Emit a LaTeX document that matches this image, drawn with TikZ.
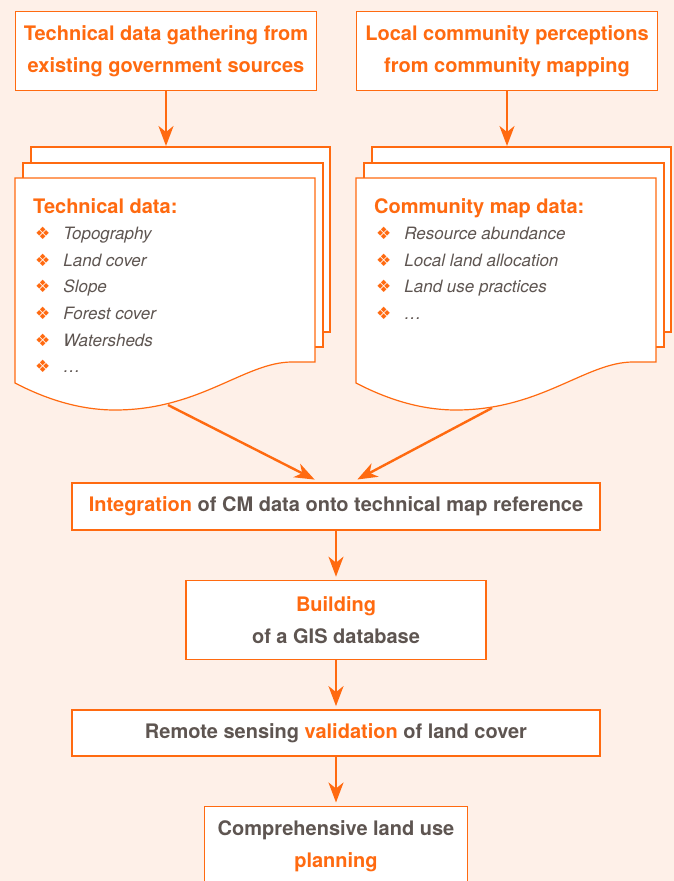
\documentclass[tikz,border=0pt]{standalone}
\usepackage{fontspec}
\setmainfont{TeX Gyre Heros}
\newfontfamily\symfont{DejaVu Sans}
\usepackage{xcolor}
\usepackage{tikz}
\usetikzlibrary{positioning,arrows.meta,calc}

\definecolor{bgpeach}{HTML}{FEF0E8}
\definecolor{cmorange}{HTML}{FF6A10}
\definecolor{cmgray}{HTML}{5E5551}
\newcommand{\hl}[1]{\textcolor{cmorange}{#1}}
\newcommand{\dia}{\textcolor{cmorange}{\symfont\char"2756}}

\begin{document}
\begin{tikzpicture}[
  x=1pt, y=-1pt,
  node distance=49pt,
  box/.style={rectangle, draw=cmorange, line width=1.4pt, fill=white, align=center,
    font=\fontsize{20}{32}\selectfont\bfseries, text=cmgray},
  head/.style={box, minimum width=301pt, minimum height=79pt, text=cmorange},
  sheet/.style={draw=cmorange, line width=1.2pt, fill=white},
  doctitle/.style={anchor=base west, inner sep=0pt, text=cmorange,
    font=\fontsize{20}{24}\selectfont\bfseries},
  entry/.style={anchor=base west, inner sep=0pt, text=cmgray,
    font=\fontsize{17}{20}\selectfont\itshape},
  link/.style={draw=cmorange, line width=2.4pt,
    -{Stealth[length=20pt, width=15pt, inset=6pt]}, shorten >=3pt}
]
\useasboundingbox (0,0) rectangle (674,881);
\clip (0,0) rectangle (674,881);
\fill[bgpeach] (0,0) rectangle (674,881);

% top boxes
\node[head] (gov) at (166,51) {Technical data gathering from\\existing government sources};
\node[head] (comm) at (507,51) {Local community perceptions\\from community mapping};

% paper stacks
\foreach \dx in {0,341} {
  \begin{scope}[xshift=\dx pt]
    \draw[sheet] (31,147) rectangle (330,332);
    \draw[sheet] (23,163) rectangle (323,347);
    \draw[sheet] (15,178) -- (315,178) -- (315,362) -- (292,362)
      .. controls (245,362) and (200,410) .. (115,410)
      .. controls (75,410) and (40,396) .. (15,383) -- cycle;
  \end{scope}
}
\coordinate (techtop) at (166,147);
\coordinate (cmtop) at (507,147);
\coordinate (techout) at (168,405);
\coordinate (cmout) at (492,408);

\node[doctitle] (techttl) at (33,213) {Technical data:};
\foreach \txt [count=\i] in {Topography, Land cover, Slope, Forest cover, Watersheds, \ldots}
  \node[entry] (tech-\i) at (35,213+26.6*\i) {\dia\hspace{13pt}\txt};

\node[doctitle] (cmttl) at (374,213) {Community map data:};
\foreach \txt [count=\i] in {Resource abundance, Local land allocation, Land use practices, \ldots}
  \node[entry] (cm-\i) at (376,213+26.6*\i) {\dia\hspace{13pt}\txt};

% main chain
\node[box, minimum width=528pt, minimum height=47pt] (integ) at (336,506.5)
  {\hl{Integration} of CM data onto technical map reference};
\node[box, minimum width=300pt, minimum height=79pt, below=of integ] (gis)
  {\hl{Building}\\of a GIS database};
\node[box, minimum width=528pt, minimum height=46pt, below=of gis] (remote)
  {Remote sensing \hl{validation} of land cover};
\node[box, minimum width=263pt, minimum height=80pt, below=of remote] (plan)
  {Comprehensive land use\\\hl{planning}};

% connectors
\draw[link, shorten >=1pt] (gov) -- (techtop);
\draw[link, shorten >=1pt] (comm) -- (cmtop);
\draw[link, shorten >=6pt] (techout) -- ($(integ.north)+(-16,0)$);
\draw[link, shorten >=6pt] (cmout) -- ($(integ.north)+(16,0)$);
\draw[link] (integ) -- (gis);
\draw[link] (gis) -- (remote);
\draw[link] (remote) -- (plan);

\end{tikzpicture}
\end{document}
